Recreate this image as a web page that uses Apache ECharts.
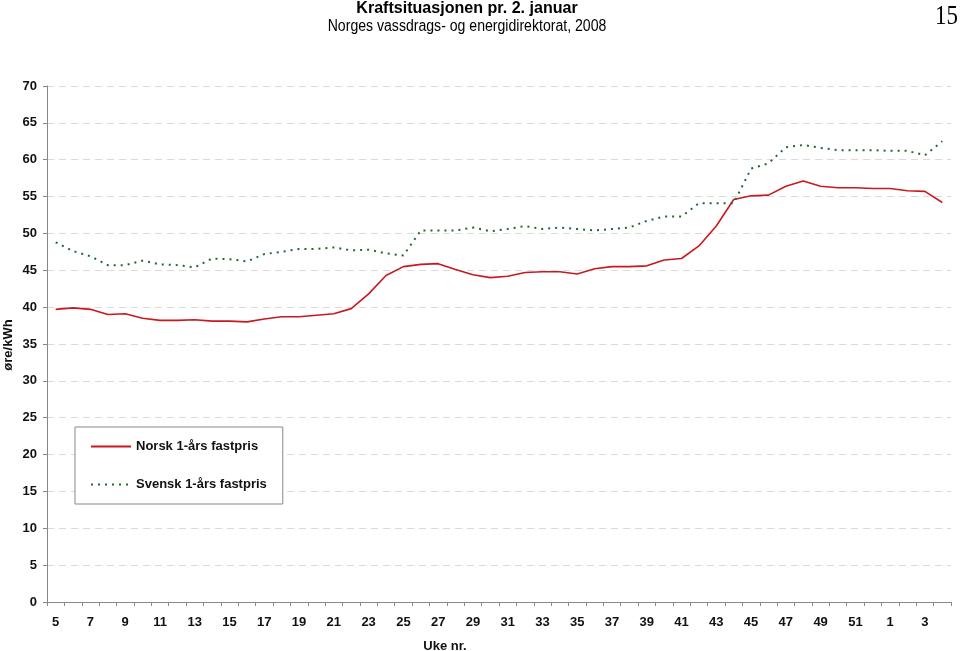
<!DOCTYPE html>
<html>
<head>
<meta charset="utf-8">
<script src="https://cdn.jsdelivr.net/npm/echarts@6/dist/echarts.min.js"></script>
<style>
html,body{margin:0;padding:0;background:#fff;}
#chart{width:960px;height:651px;}
</style>
</head>
<body>
<div id="chart"></div>
<script>
const weeks = ['5','6','7','8','9','10','11','12','13','14','15','16','17','18','19','20','21','22','23','24','25','26','27','28','29','30','31','32','33','34','35','36','37','38','39','40','41','42','43','44','45','46','47','48','49','50','51','52','1','2','3','4'];
const norsk = [39.7,39.9,39.7,39.0,39.1,38.5,38.2,38.2,38.3,38.1,38.1,38.0,38.4,38.7,38.7,38.9,39.1,39.8,41.8,44.3,45.5,45.8,45.9,45.1,44.4,44.0,44.2,44.7,44.8,44.8,44.5,45.2,45.5,45.5,45.6,46.4,46.6,48.3,51.0,54.6,55.1,55.2,56.4,57.1,56.4,56.2,56.2,56.1,56.1,55.8,55.7,54.2];
const svensk = [48.8,47.6,46.9,45.7,45.7,46.3,45.8,45.7,45.4,46.6,46.5,46.2,47.2,47.5,47.9,47.9,48.1,47.7,47.8,47.3,47.0,50.4,50.4,50.4,50.8,50.3,50.6,51.0,50.6,50.8,50.6,50.4,50.6,50.8,51.7,52.3,52.3,54.1,54.1,54.1,58.8,59.5,61.7,62.0,61.6,61.3,61.3,61.3,61.2,61.2,60.6,62.5];
const yTicks = [0,5,10,15,20,25,30,35,40,45,50,55,60,65,70];
const seriesNames = ['Norsk 1-års fastpris','Svensk 1-års fastpris'];
const titleText = 'Kraftsituasjonen pr. 2. januar';
const subtitleText = 'Norges vassdrags- og energidirektorat, 2008';
const pageNo = '15';
const yName = 'øre/kWh';
const xName = 'Uke nr.';

const font = '"Liberation Sans",Arial,sans-serif';
const chart = echarts.init(document.getElementById('chart'), null, {renderer:'canvas'});
chart.setOption({
  animation:false,
  backgroundColor:'#fff',
  textStyle:{fontFamily:font},
  grid:{left:47,right:9,top:86,bottom:49,containLabel:false},
  legend:{
    orient:'vertical', left:75, top:427,
    data:seriesNames,
    itemWidth:40, itemHeight:14, itemGap:25,
    padding:[13,16,13,15],
    borderColor:'#888', borderWidth:1, backgroundColor:'#fff',
    itemStyle:{opacity:0},
    textStyle:{fontFamily:font,fontSize:13,fontWeight:'bold',color:'#111'}
  },
  xAxis:{
    type:'category', data:weeks, boundaryGap:true,
    axisLine:{lineStyle:{color:'#888',width:1}},
    axisTick:{show:true,interval:0,length:4,lineStyle:{color:'#888'}},
    axisLabel:{interval:1,margin:14,fontSize:13,fontWeight:'bold',color:'#111',fontFamily:font},
    splitLine:{show:false}
  },
  yAxis:{
    type:'value', min:0, max:70, interval:5,
    axisLine:{show:true,lineStyle:{color:'#888',width:1}},
    axisTick:{show:true,length:4,lineStyle:{color:'#888'}},
    axisLabel:{margin:10,fontSize:13,fontWeight:'bold',color:'#111',fontFamily:font,
      formatter:function(v){return yTicks.indexOf(v)>=0?String(v):'';}},
    splitLine:{show:true,lineStyle:{color:'#dadada',width:1,type:[7,5]}}
  },
  series:[
    {name:seriesNames[0],type:'line',data:norsk,symbol:'none',
     lineStyle:{color:'#c8191e',width:1.6},itemStyle:{color:'#c8191e'}},
    {name:seriesNames[1],type:'line',data:svensk,symbol:'none',
     lineStyle:{color:'#1f6a2c',width:2,type:[2,5]},itemStyle:{color:'#1f6a2c'}}
  ],
  graphic:[
    {type:'text',x:467,y:0,scaleX:0.945,style:{text:titleText,fontFamily:font,fontSize:17,fontWeight:'bold',fill:'#000',align:'center',verticalAlign:'top'}},
    {type:'text',x:467,y:19,scaleX:0.88,style:{text:subtitleText,fontFamily:font,fontSize:16,fill:'#000',align:'center',verticalAlign:'top'}},
    {type:'text',x:958,y:3,scaleX:0.85,style:{text:pageNo,fontFamily:'"Liberation Serif","Times New Roman",serif',fontSize:27,fill:'#000',align:'right',verticalAlign:'top'}},
    {type:'text',x:445,y:646,style:{text:xName,fontFamily:font,fontSize:13,fontWeight:'bold',fill:'#111',align:'center',verticalAlign:'middle'}},
    {type:'text',x:8,y:345,rotation:Math.PI/2,style:{text:yName,fontFamily:font,fontSize:13,fontWeight:'bold',fill:'#111',align:'center',verticalAlign:'middle'}}
  ]
});
</script>
</body>
</html>
